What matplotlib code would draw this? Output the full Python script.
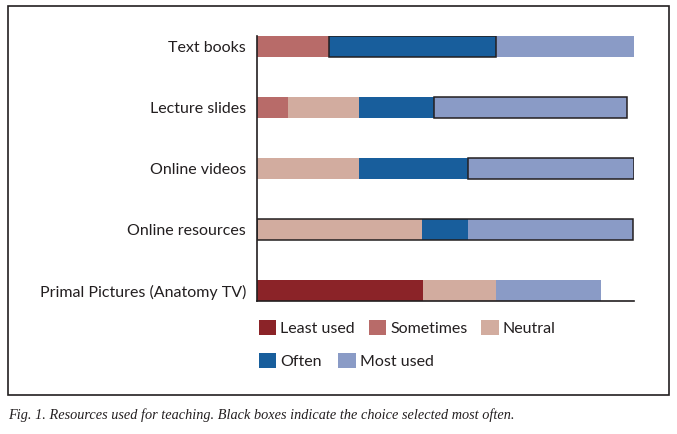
import numpy as np
import matplotlib.pyplot as plt
from matplotlib.patches import Rectangle

# Resources (top to bottom) and share of answers per usage level
resources = ['Text books', 'Lecture slides', 'Online videos',
             'Online resources', 'Primal Pictures (Anatomy TV)']
levels = ['Least used', 'Sometimes', 'Neutral', 'Often', 'Most used']

least_used = np.array([0.0, 0.0, 0.0, 0.0, 44.0])
sometimes = np.array([19.1, 8.2, 0.0, 0.0, 0.0])
neutral = np.array([0.0, 18.8, 27.1, 43.8, 19.4])
often = np.array([44.3, 19.9, 28.9, 12.2, 0.0])
most_used = np.array([36.6, 51.2, 44.0, 43.8, 27.9])

# Black boxes: (first level, last level) of the choice selected most often
boxed = [(3, 3), (4, 4), (4, 4), (2, 4), None]

colors = ['#8b2328', '#b86b69', '#d2ac9f', '#185e9c', '#8a9bc6']

plt.rcParams['font.family'] = ['Lato', 'DejaVu Sans']

fig = plt.figure(figsize=(6.77, 4.34), dpi=100)
ax = fig.add_axes([0.3796, 0.3065, 0.5569, 0.6106])

series = [least_used, sometimes, neutral, often, most_used]
y = np.arange(len(resources))
h = 0.34
left = np.zeros(len(resources))
starts = []
bars = []
for vals, col, lab in zip(series, colors, levels):
    starts.append(left.copy())
    b = ax.barh(y, vals, height=h, left=left, color=col, label=lab)
    bars.append(b)
    left = left + vals

# outline the most selected choice
for i, bx in enumerate(boxed):
    if bx is None:
        continue
    a, z = bx
    x0 = starts[a][i]
    x1 = starts[z][i] + series[z][i]
    ax.barh(y[i], x1 - x0, height=h, left=x0, fill=False,
            edgecolor='#231f20', linewidth=1.1)

ax.set_xlim(0, 100)
ax.set_ylim(len(resources) - 1 + h / 2, -h / 2)
ax.set_yticks(y)
ax.set_yticklabels(resources, fontsize=11.5, color='#231f20')
ax.set_xticks([])
ax.tick_params(axis='y', length=0, pad=8)
for s in ['top', 'right']:
    ax.spines[s].set_visible(False)
for s in ['left', 'bottom']:
    ax.spines[s].set_color('#231f20')
    ax.spines[s].set_linewidth(1.2)

leg1 = fig.legend(handles=bars[:3], labels=levels[:3], ncol=3,
                  loc='center left', bbox_to_anchor=(0.373, 0.244),
                  frameon=False, fontsize=11.5, handlelength=1.1,
                  handleheight=1.1, handletextpad=0.25, columnspacing=0.85,
                  borderaxespad=0)
leg2 = fig.legend(handles=bars[3:], labels=levels[3:], ncol=2,
                  loc='center left', bbox_to_anchor=(0.373, 0.168),
                  frameon=False, fontsize=11.5, handlelength=1.1,
                  handleheight=1.1, handletextpad=0.25, columnspacing=1.0,
                  borderaxespad=0)
for lg in (leg1, leg2):
    for t in lg.get_texts():
        t.set_color('#231f20')

# outer frame
fig.patches.append(Rectangle((0.0118, 0.0899), 0.9764, 0.8962,
                             transform=fig.transFigure, fill=False,
                             edgecolor='#231f20', linewidth=1.2))

fig.text(0.0118, 0.044,
         'Fig. 1. Resources used for teaching. Black boxes indicate the choice selected most often.',
         fontsize=10.3, style='italic', family='Liberation Serif',
         color='#231f20', va='center')

plt.savefig('out.png', dpi=100)
